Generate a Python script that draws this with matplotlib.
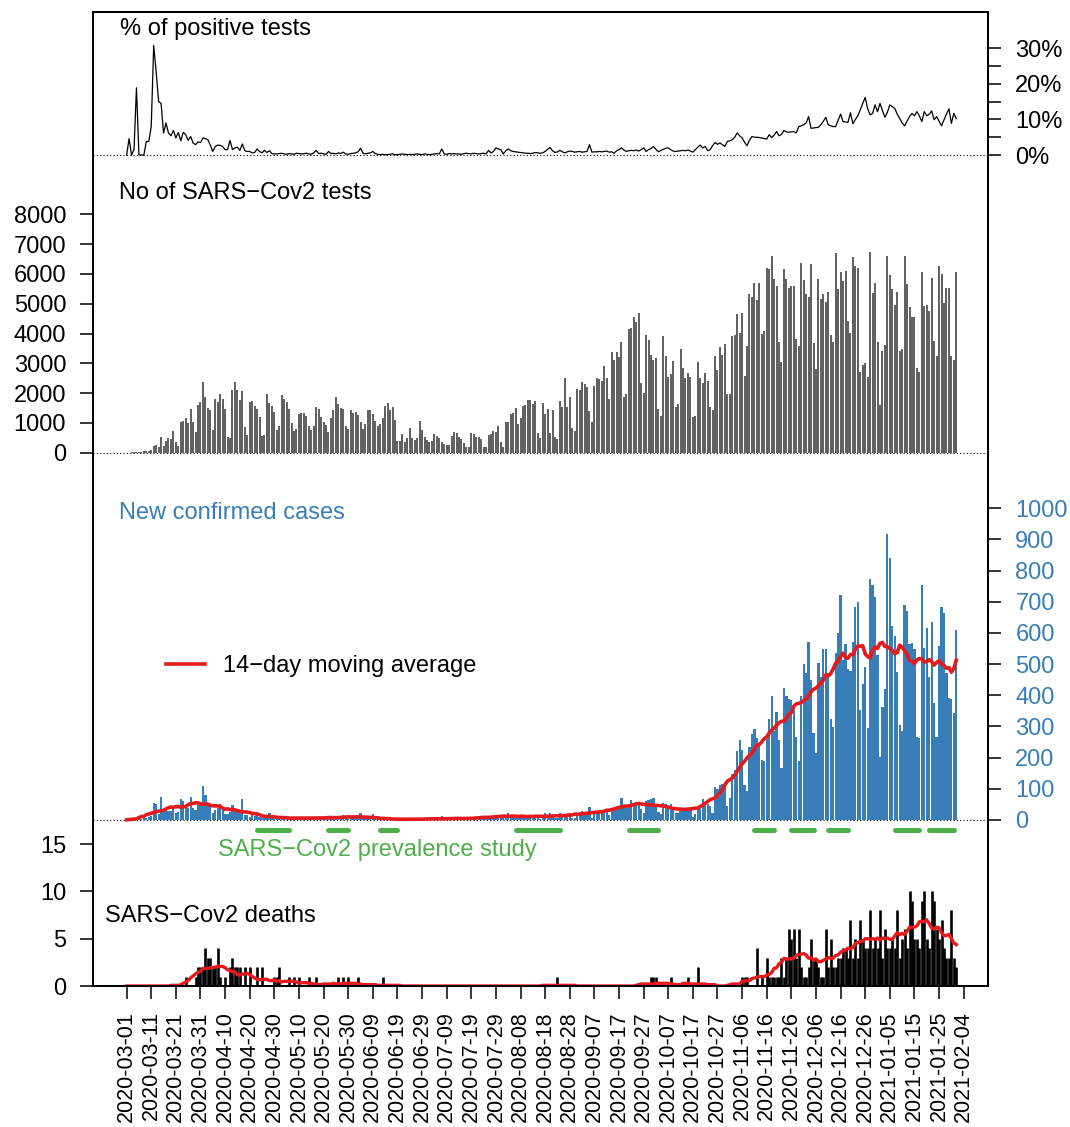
import numpy as np
import pandas as pd
import matplotlib
matplotlib.use('Agg')
import matplotlib.pyplot as plt

plt.rcParams['font.family'] = ['Liberation Sans', 'DejaVu Sans']

start = '2020-03-01'

# daily number of tests
tests = [0, 0, 10, 20, 30, 30, 40, 50, 60, 60, 80,
         224, 258, 200, 540, 224, 400, 480, 450, 730, 370,
         224, 1040, 1060, 1180, 985, 1456, 1040, 705, 1600, 1710,
         2385, 1860, 1510, 1430, 760, 1790, 1690, 1970, 1790, 1456,
         540, 480, 2100, 2375, 2100, 1770, 2070, 850, 595, 1710,
         1750, 1570, 1456, 1210, 560, 595, 1970, 1660, 1580, 1355,
         760, 900, 1940, 1790, 1710, 1470, 985, 730, 785, 1290,
         1320, 1345, 1240, 900, 760, 900, 1520, 1470, 1210, 1040,
         930, 705, 1150, 1430, 1860, 1620, 1500, 1480, 900, 800,
         1420, 1330, 1380, 1260, 1020, 800, 950, 1450, 1450, 1290,
         1080, 900, 950, 1150, 1560, 1660, 1450, 1530, 1100, 380,
         380, 620, 370, 500, 830, 500, 440, 490, 1050, 780,
         520, 420, 360, 380, 620, 560, 480, 360, 280, 260,
         250, 550, 705, 650, 540, 450, 315, 200, 180, 650,
         630, 540, 540, 450, 200, 180, 595, 615, 730, 705,
         900, 370, 200, 1020, 1020, 1290, 1345, 1490, 960, 1150,
         1580, 1600, 1770,
         1770, 1620, 1740, 650, 500, 1680, 1300,
         1456, 650, 1430, 540, 450, 1740, 1520, 2520, 1520, 1860,
         840, 730, 2140, 2100, 2385, 2300, 2200, 1410, 1040, 2250,
         2500, 2460, 2420, 2920, 2520, 1790, 3370, 3110, 3370, 3225,
         3700, 1860, 1960, 4140, 4180, 4550, 4380, 4680, 2350, 2020,
         3940, 3770, 3280, 3110, 3170, 1470, 1230, 3930, 3250, 2550,
         2640, 3080, 1520, 1620, 3470, 2860, 2500, 2690, 2550, 1210,
         1230, 3060, 2520, 2350, 2690, 2410, 1520, 1430, 3260, 2780,
         3540, 3280, 3650, 1970, 1970, 3920, 3950, 4660, 4010, 4700,
         2580, 3580, 5320, 5240, 5690, 5130, 5710, 3980, 4070, 6190,
         6160, 6590, 5840, 5580, 3730, 3035, 6160, 5840, 5520, 5580,
         5580, 3810, 3580, 6380, 5800, 5330, 5220, 6330, 3670, 2800,
         5820, 5150, 5330, 5050, 5380, 3950, 3720, 6700, 5500, 6080,
         5750, 6100, 4435, 4010, 6560, 6270, 6190, 2720, 2950, 3000,
         2550, 6730, 5350, 5690, 3700, 1600, 3420, 3620, 6590, 5950,
         5490, 4960, 5410, 3430, 3470, 6590, 5670, 4905, 4570, 4540,
         2830, 2700, 6080, 4940, 4960, 4760, 5860, 3750, 3250, 6270,
         5990, 5040, 5520, 5540, 3260, 3110, 6060]

# daily new confirmed cases
cases = [0, 0, 0, 0, 0, 3, 2, 5, 8, 10, 12,
         53, 51, 20, 75, 32, 37, 30, 28, 37, 21,
         25, 67, 62, 48, 40, 75, 37, 32, 48, 56,
         109, 80, 48, 45, 21, 32, 37, 51, 43, 20,
         18, 25, 48, 37, 27, 32, 66, 16, 16, 11,
         16, 12, 27, 11, 8, 10, 12, 21, 8, 6,
         5, 7, 9, 6, 5, 8, 4, 3, 6, 7,
         5, 6, 8, 3, 4, 10, 9, 6, 7, 8,
         4, 3, 7, 9, 8, 10, 9, 16, 5, 4,
         8, 10, 12, 14, 21, 5, 4, 9, 12, 18,
         6, 3, 2, 3, 4, 2, 3, 5, 2, 1,
         2, 3, 4, 2, 3, 1, 2, 4, 3, 2,
         3, 4, 2, 1, 3, 5, 4, 13, 3, 2,
         4, 5, 6, 4, 3, 2, 5, 7, 6, 5,
         8, 7, 6, 4, 3, 9, 11, 12, 10, 16,
         14, 8, 6, 12, 21, 16, 14, 12, 10, 8,
         12, 14, 10, 12, 8, 15, 5, 4, 14, 23,
         10, 23, 12, 6, 5, 21, 14, 12, 18, 22,
         8, 6, 20, 22, 29, 25, 18, 43, 8, 22,
         25, 28, 30, 26, 30, 15, 28, 35, 43, 38,
         69, 40, 38, 52, 64, 55, 59, 52, 35, 21,
         62, 64, 66, 69, 43, 27, 20, 53, 50, 48,
         52, 40, 21, 21, 30, 37, 35, 38, 36, 11,
         20, 40, 45, 66, 58, 52, 45, 21, 105, 101,
         112, 115, 123, 45, 69, 147, 160, 222, 256, 224,
         112, 94, 235, 276, 291, 262, 246, 194, 190, 259,
         323, 397, 286, 347, 256, 166, 422, 397, 387, 385,
         353, 267, 189, 397, 502, 472, 572, 449, 278, 214,
         504, 459, 548, 548, 470, 323, 299, 536, 600, 723,
         513, 566, 483, 479, 572, 682, 700, 353, 436, 491,
         294, 772, 753, 714, 529, 203, 361, 419, 916, 839,
         622, 590, 475, 304, 286, 691, 670, 566, 568, 547,
         267, 264, 753, 553, 617, 459, 636, 374, 265, 558,
         682, 665, 472, 390, 387, 342, 609]

# % of positive tests
positive = [0, 4.6, 0, 1.5, 18.9, 0, 0, 0, 3.8, 3.8, 8.0,
            30.8, 23.4, 15.0, 14.5, 6.2, 9.0, 6.2, 5.4, 6.9, 4.8,
            6.3, 4.0, 6.4, 5.7, 4.1, 5.2, 3.4, 2.9, 3.7, 3.5,
            4.8, 4.6, 4.3, 2.8, 1.0, 2.4, 2.8, 2.7, 2.4, 1.5,
            1.5, 4.1, 1.5, 2.0, 2.2, 1.3, 3.1, 1.2, 1.0, 1.0,
            0.6, 0.7, 1.7, 1.0, 0.6, 1.3, 0.7, 1.2, 0.4, 0.3,
            0.3, 0.4, 0.5, 0.3, 0.2, 0.4, 0.3, 0.2, 0.5, 0.4,
            0.3, 0.4, 0.5, 0.3, 0.2, 0.6, 1.3, 0.4, 0.5, 0.3,
            0.2, 1.0, 0.4, 0.5, 0.3, 0.6, 0.4, 0.8, 0.3, 0.2,
            0.4, 0.5, 0.6, 0.9, 1.9, 0.5, 0.3, 0.5, 0.6, 1.0,
            0.4, 0.2, 0.1, 0.2, 0.1, 0.1, 0.2, 0.3, 0.1, 0.1,
            0.2, 0.3, 0.2, 0.1, 0.2, 0.1, 0.2, 0.3, 0.2, 0.1,
            0.3, 0.2, 0.1, 0.2, 0.3, 0.4, 0.3, 1.7, 0.3, 0.2,
            0.4, 0.3, 0.4, 0.3, 0.3, 0.2, 0.4, 0.5, 0.4, 0.3,
            0.5, 0.4, 0.3, 0.4, 0.5, 0.3, 1.3, 0.6, 1.0, 2.0,
            1.7, 1.5, 0.3, 1.2, 1.7, 1.2, 1.0, 0.9, 0.8, 0.7,
            0.6, 0.5, 0.5, 0.4, 0.5, 0.7, 0.6, 0.5, 0.6, 1.0,
            1.6, 2.1, 1.2, 0.7, 0.9, 1.3, 0.9, 0.6, 0.9, 1.1,
            1.0, 0.8, 0.9, 1.0, 0.8, 0.9, 1.0, 2.9, 0.8, 0.9,
            0.9, 1.0, 0.9, 1.0, 1.1, 0.8, 0.9, 0.5, 1.2, 1.5,
            2.0, 1.4, 1.0, 1.2, 1.3, 1.2, 1.4, 1.1, 1.5, 2.0,
            1.0, 1.5, 1.8, 2.4, 1.6, 0.9, 1.3, 1.6, 1.9, 2.0,
            1.5, 1.1, 1.0, 1.1, 1.2, 1.3, 1.2, 1.4, 1.1, 0.8,
            1.5, 2.2, 2.8, 2.0, 2.4, 1.2, 1.5, 2.6, 3.5, 3.0,
            3.4, 2.9, 2.4, 3.8, 4.0, 4.3, 5.0, 6.2, 5.4, 4.8,
            3.6, 2.6, 4.2, 5.2, 5.0, 5.0, 4.9, 4.8, 4.6, 4.5,
            5.7, 4.9, 5.6, 6.6, 5.4, 5.8, 6.9, 6.5, 6.4, 6.5,
            6.6, 6.2, 8.0, 8.2, 8.5, 9.0, 10.8, 7.5, 7.6, 7.7,
            7.8, 8.5, 9.5, 10.6, 8.5, 8.2, 8.0, 8.0, 9.8, 11.5,
            9.4, 9.3, 9.2, 11.9, 8.8, 10.0, 11.0, 12.7, 14.5, 16.2,
            13.0, 11.3, 11.7, 14.1, 12.2, 14.5, 12.5, 10.6, 12.0, 14.1,
            13.6, 13.1, 11.5, 10.3, 9.0, 8.2, 9.5, 10.8, 11.7, 11.0,
            12.2, 11.0, 9.4, 12.2, 11.0, 11.5, 12.4, 9.9, 10.8, 9.5,
            8.2, 9.9, 11.5, 13.0, 8.9, 11.7, 10.2]

# daily deaths
deaths = [0] * 21 + [
    0, 0, 0, 1, 0, 0, 0, 1, 2, 2,
    2, 4, 3, 3, 2, 2, 4, 1, 0, 1,
    0, 2, 3, 2, 2, 2, 0, 2, 0, 2,
    0, 0, 2, 0, 2, 0, 0, 0, 0, 1,
    1, 2, 0, 0, 0, 1, 0, 1, 0, 1,
    0, 0, 0, 1, 0, 0, 1, 0, 0, 0,
    0, 0, 0, 0, 0, 1, 0, 1, 0, 1,
    0, 0, 0, 1, 0, 0, 0, 0, 0, 0,
    0, 0, 0, 1, 0, 0, 0, 0, 0, 0] + [0] * 60 + [
    0, 0, 0, 0, 1, 0, 0, 0, 0, 0] + [0] * 30 + [
    0, 0, 1, 1, 1, 0, 0, 0, 0, 0,
    1, 0, 0, 0, 0, 0, 0, 1, 0, 0,
    0, 2, 0, 0, 0, 0, 0, 0, 0, 0,
    0, 0, 0, 0, 0, 0, 0, 0, 0, 1,
    1, 1, 0, 0, 0, 4, 0, 1, 0, 3,
    1, 1, 1, 1, 1, 3, 1, 3, 6, 5,
    6, 3, 6, 2, 1, 1, 2, 5, 3, 3,
    2, 1, 1, 6, 2, 5, 2, 2, 3, 3,
    4, 4, 3, 7, 3, 5, 3, 7, 5, 4,
    4, 8, 4, 5, 4, 8, 3, 6, 4, 4,
    5, 4, 8, 3, 5, 6, 4, 10, 9, 5,
    5, 4, 9, 10, 5, 4, 10, 9, 6, 5,
    7, 4, 3, 3, 8, 3, 2]

# prevalence study rounds
study_start = ['2020-04-23', '2020-05-22', '2020-06-12', '2020-08-06', '2020-09-21',
               '2020-11-11', '2020-11-26', '2020-12-11', '2021-01-07', '2021-01-21']
study_end = ['2020-05-06', '2020-05-30', '2020-06-19', '2020-08-24', '2020-10-03',
             '2020-11-19', '2020-12-05', '2020-12-19', '2021-01-17', '2021-01-31']

BLUE = '#377EB8'
RED = '#E41A1C'
GREEN = '#4DAF4A'

t0 = pd.Timestamp(start)
day = np.arange(len(tests))
s0 = (pd.to_datetime(study_start) - t0).days
s1 = (pd.to_datetime(study_end) - t0).days
cases_ma = pd.Series(cases).rolling(14, center=True, min_periods=1).mean()
deaths_ma = pd.Series(deaths).rolling(14, center=True, min_periods=1).mean()

fig = plt.figure(figsize=(10.7, 11.27), dpi=100)
ax_d = fig.add_axes([0.0872, 0.1251, 0.8364, 0.8642])
ax_t = ax_d.twinx()
ax_c = ax_d.twinx()
ax_p = ax_d.twinx()

xlim = (-13.53, 349.98)
for a in (ax_d, ax_t, ax_c, ax_p):
    a.set_xlim(*xlim)
    for s in a.spines.values():
        s.set_linewidth(1.1)

dot = (0, (1, 2))

# deaths
ax_d.vlines(day, 0, deaths, color='black', lw=1.9)
ax_d.plot(day, deaths_ma, color=RED, lw=2.4)
ax_d.set_ylim(0, 102.9)
ax_d.set_yticks([0, 5, 10, 15])

# tests
ax_t.axhline(0, color='black', lw=0.8, ls=dot, zorder=1)
ax_t.vlines(day, 0, tests, color='0.2', lw=1.1)
ax_t.set_ylim(-17896, 14789)
ax_t.set_yticks(range(0, 8001, 1000))
ax_t.yaxis.set_ticks_position('left')
ax_t.yaxis.set_label_position('left')

# cases
ax_c.axhline(0, color='black', lw=0.8, ls=dot, zorder=1)
ax_c.bar(day, cases, width=0.9, color=BLUE, lw=0)
ax_c.plot(day, cases_ma, color=RED, lw=2.6, label='14\u2212day moving average')
hl = ax_c.hlines(np.full(len(s0), -32), s0, s1, color=GREEN, lw=3.6)
hl.set_capstyle('round')
ax_c.set_ylim(-532.6, 2592)
ax_c.set_yticks(range(0, 1001, 100))
ax_c.tick_params(axis='y', labelcolor=BLUE)

# positivity
ax_p.axhline(0, color='black', lw=0.8, ls=dot, zorder=1)
ax_p.plot(day, positive, color='black', lw=0.9)
ax_p.set_ylim(-233.7, 40.2)
ax_p.set_yticks([0, 10, 20, 30])
ax_p.set_yticklabels(['0%', '10%', '20%', '30%'])
ax_p.set_yticks([5, 15, 25], minor=True)

for a in (ax_d, ax_t, ax_c, ax_p):
    a.tick_params(axis='y', which='both', length=9.5, width=1.1, labelsize=17, pad=10)

tick_days = np.arange(0, 341, 10)
tick_labels = pd.date_range(start, periods=len(tick_days), freq='10D').strftime('%Y-%m-%d')
ax_d.set_xticks(tick_days)
ax_d.set_xticklabels(tick_labels, rotation=90)
ax_d.tick_params(axis='x', length=9, width=1.1, labelsize=15.5, pad=9)
for a in (ax_t, ax_c, ax_p):
    a.tick_params(axis='x', bottom=False, labelbottom=False)

tr = ax_d.transAxes
ax_d.text(0.0298, 0.9825, '% of positive tests', transform=tr, fontsize=17, va='center')
ax_d.text(0.0287, 0.8142, 'No of SARS\u2212Cov2 tests', transform=tr, fontsize=17, va='center')
ax_d.text(0.0287, 0.4857, 'New confirmed cases', transform=tr, fontsize=17, va='center', color=BLUE)
ax_d.text(0.1393, 0.1397, 'SARS\u2212Cov2 prevalence study', transform=tr, fontsize=17, va='center', color=GREEN)
ax_d.text(0.0131, 0.0719, 'SARS\u2212Cov2 deaths', transform=tr, fontsize=17, va='center')

ax_c.legend(loc='center left', bbox_to_anchor=(0.0812, 0.3286), frameon=False, fontsize=17,
            handlelength=1.65, handletextpad=0.75, borderpad=0, borderaxespad=0)

fig.savefig('out.png', dpi=100)
